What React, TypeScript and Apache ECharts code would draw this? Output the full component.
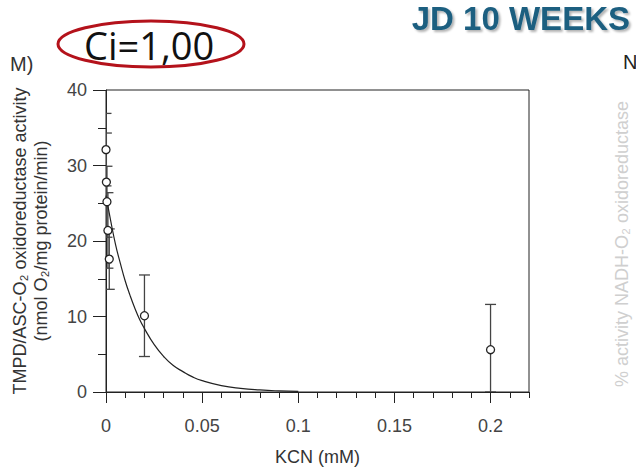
import React, { useEffect, useRef } from "react";
import * as echarts from "echarts";

// KCN concentration (mM) of each measured point
const kcnMM = [0, 0.0002, 0.0005, 0.001, 0.0017, 0.02, 0.2];
// TMPD/ASC-O2 oxidoreductase activity (nmol O2/mg protein/min)
const activity = [32.1, 27.8, 25.2, 21.4, 17.6, 10.1, 5.6];
const errUpper = [36.9, 34.3, 29.9, 26.4, 21.6, 15.5, 11.6];
const errLower = [27.3, 21.3, 20.5, 16.4, 13.6, 4.7, 0];

// fitted decay curve
const curveX = [0, 0.0025, 0.005, 0.0075, 0.01, 0.0125, 0.015, 0.0175, 0.02, 0.025, 0.03, 0.035, 0.04, 0.045, 0.05, 0.06, 0.07, 0.08, 0.09, 0.1];
const curveY = [26.0, 22.6, 19.5, 17.0, 14.7, 12.8, 11.1, 9.6, 8.4, 6.3, 4.7, 3.5, 2.7, 2.0, 1.5, 0.85, 0.48, 0.27, 0.15, 0.09];

const xTickLabels = ["0", "0.05", "0.1", "0.15", "0.2"];
const yTickLabels = ["0", "10", "20", "30", "40"];

const AX = "Liberation Sans, Arial, sans-serif";
const PPT = "Open Sans, Noto Sans, sans-serif";

export default function App() {
  const ref = useRef<HTMLDivElement>(null);
  useEffect(() => {
    const chart = echarts.init(ref.current!, null, { renderer: "svg" });
    const xFmt = (v: number) => {
      const i = Math.round(v / 0.05);
      return Math.abs(v - i * 0.05) < 1e-9 && xTickLabels[i] !== undefined ? xTickLabels[i] : "";
    };
    const yFmt = (v: number) => {
      const i = Math.round(v / 10);
      return yTickLabels[i] ?? "";
    };
    chart.setOption({
      animation: false,
      backgroundColor: "#ffffff",
      grid: {
        left: 106,
        top: 90,
        width: 423,
        height: 303,
        show: true,
        borderColor: "#222",
        borderWidth: 1,
        backgroundColor: "transparent",
      },
      xAxis: [
        {
          type: "value",
          min: 0,
          max: 0.22,
          interval: 0.05,
          position: "bottom",
          axisLine: { show: true, onZero: false, lineStyle: { color: "#222", width: 1 } },
          axisTick: { show: true, length: 11, lineStyle: { color: "#222", width: 1 } },
          axisLabel: { margin: 25, fontSize: 18, color: "#444", fontFamily: AX, showMaxLabel: false, formatter: xFmt },
          splitLine: { show: false },
          name: "KCN (mM)",
          nameLocation: "middle",
          nameGap: 56,
          nameTextStyle: { fontSize: 18, color: "#333", fontFamily: AX },
        },
        {
          type: "value",
          min: 0,
          max: 0.22,
          interval: 0.01,
          position: "bottom",
          axisLine: { show: false },
          axisTick: { show: true, length: 6, lineStyle: { color: "#222", width: 1 } },
          axisLabel: { show: false },
          splitLine: { show: false },
        },
      ],
      yAxis: [
        {
          type: "value",
          min: 0,
          max: 40,
          interval: 10,
          position: "left",
          axisLine: { show: true, onZero: false, lineStyle: { color: "#222", width: 1 } },
          axisTick: { show: true, length: 13, lineStyle: { color: "#222", width: 1 } },
          axisLabel: { margin: 19, fontSize: 18, color: "#444", fontFamily: AX, formatter: yFmt },
          splitLine: { show: false },
          name: "TMPD/ASC-O₂ oxidoreductase activity\n(nmol O₂/mg protein/min)",
          nameLocation: "middle",
          nameRotate: 90,
          nameGap: 55,
          nameTextStyle: { fontSize: 18, lineHeight: 21, color: "#333", fontFamily: AX },
        },
        {
          type: "value",
          min: 0,
          max: 40,
          interval: 5,
          position: "left",
          axisLine: { show: false },
          axisTick: { show: true, length: 8, lineStyle: { color: "#222", width: 1 } },
          axisLabel: { show: false },
          splitLine: { show: false },
        },
      ],
      series: [
        {
          type: "custom",
          xAxisIndex: 0,
          yAxisIndex: 0,
          clip: true,
          z: 2,
          encode: { x: 0, y: [1, 2] },
          data: kcnMM.map((x, i) => [x, errLower[i], errUpper[i]]),
          renderItem: (params: any, api: any) => {
            const x = api.value(0);
            const lo = api.coord([x, api.value(1)]);
            const hi = api.coord([x, api.value(2)]);
            const w = 5.5;
            const style = { stroke: "#444", lineWidth: 1.3, fill: "none" };
            return {
              type: "group",
              children: [
                { type: "line", shape: { x1: hi[0], y1: hi[1], x2: lo[0], y2: lo[1] }, style },
                { type: "line", shape: { x1: hi[0] - w, y1: hi[1], x2: hi[0] + w, y2: hi[1] }, style },
                { type: "line", shape: { x1: lo[0] - w, y1: lo[1], x2: lo[0] + w, y2: lo[1] }, style },
              ],
            };
          },
        },
        {
          type: "line",
          xAxisIndex: 0,
          yAxisIndex: 0,
          z: 3,
          smooth: true,
          showSymbol: false,
          symbol: "none",
          lineStyle: { color: "#222", width: 1.2 },
          data: curveX.map((x, i) => [x, curveY[i]]),
        },
        {
          type: "scatter",
          xAxisIndex: 0,
          yAxisIndex: 0,
          z: 4,
          clip: false,
          symbol: "circle",
          symbolSize: 8,
          itemStyle: { color: "#ffffff", borderColor: "#222", borderWidth: 1.3, opacity: 1 },
          data: kcnMM.map((x, i) => [x, activity[i]]),
        },
      ],
      graphic: [
        {
          type: "ellipse",
          shape: { cx: 151, cy: 44, rx: 93, ry: 23 },
          style: { fill: "none", stroke: "#b4121b", lineWidth: 3 },
        },
        {
          type: "text",
          x: 84,
          y: 45,
          style: { text: "Ci=1,00", font: `38px ${PPT}`, fill: "#111", textVerticalAlign: "middle", textAlign: "left" },
        },
        {
          type: "text",
          x: 630,
          y: 2,
          style: {
            text: "JD 10 WEEKS",
            font: `bold 33px ${AX}`,
            fill: "#1d5f80",
            textVerticalAlign: "top",
            textAlign: "right",
            textShadowColor: "rgba(0,0,0,0.3)",
            textShadowBlur: 2,
            textShadowOffsetX: 2,
            textShadowOffsetY: 2,
          },
        },
        {
          type: "text",
          x: 10,
          y: 64,
          style: { text: "M)", font: `20px ${AX}`, fill: "#333", textVerticalAlign: "middle", textAlign: "left" },
        },
        {
          type: "text",
          x: 623,
          y: 62,
          style: { text: "N", font: `20px ${AX}`, fill: "#222", textVerticalAlign: "middle", textAlign: "left" },
        },
        {
          type: "text",
          x: 622,
          y: 244,
          rotation: Math.PI / 2,
          style: {
            text: "% activity NADH-O₂ oxidoreductase",
            font: `18px ${AX}`,
            fill: "#cfcfcf",
            textVerticalAlign: "middle",
            textAlign: "center",
          },
        },
      ],
    });
    return () => chart.dispose();
  }, []);
  return (
    <div
      ref={ref}
      style={{ position: "absolute", left: 0, top: 0, width: 636, height: 471, background: "#fff" }}
    />
  );
}
